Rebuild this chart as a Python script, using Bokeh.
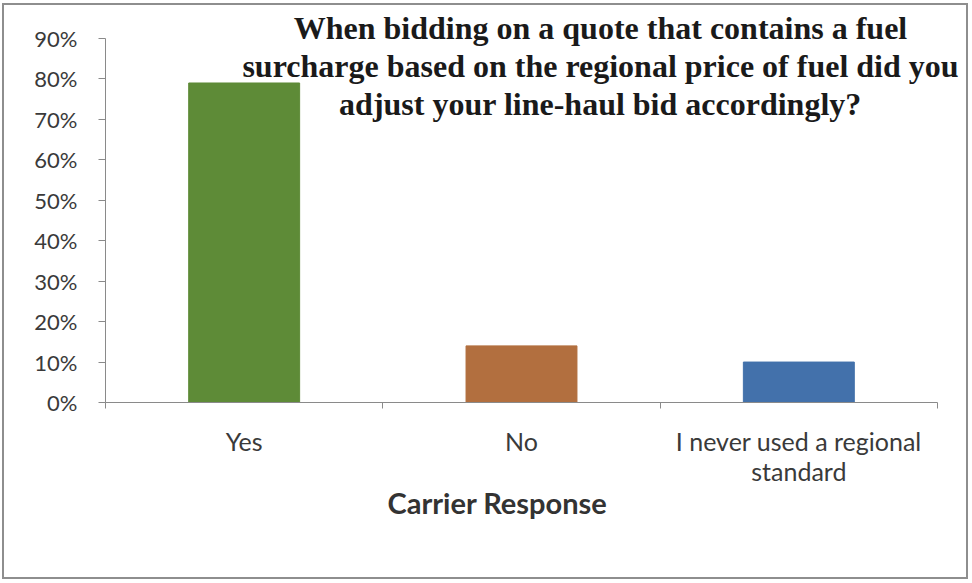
from bokeh.plotting import figure
from bokeh.models import FixedTicker, Range1d, Label, NumeralTickFormatter, ColumnDataSource, Title
from bokeh.embed import file_html
from bokeh.resources import INLINE

categories = ["Yes", "No", "I never used a regional\nstandard"]
values = [0.79, 0.14, 0.10]
colors = ["#5e8b37", "#b26f3f", "#4371ab"]
y_ticks = [0, 0.1, 0.2, 0.3, 0.4, 0.5, 0.6, 0.7, 0.8, 0.9]
x_title = "Carrier Response"
title_text = ("When bidding on a quote that contains a fuel\n"
              "surcharge based on the regional price of fuel did you\n"
              "adjust your line-haul bid accordingly?")

xs = [i + 0.5 for i in range(len(categories))]
src = ColumnDataSource(dict(x=xs, top=values, color=colors))

frame_h = 576 - 179 - 2
y_top = 0.9 * frame_h / 364.0
frame_w = 966 - 101 - 2
x_end = len(categories) * frame_w / 832.0

p = figure(width=966, height=576, output_backend="svg", toolbar_location=None,
           x_range=Range1d(0, x_end), y_range=Range1d(0, y_top),
           min_border_left=101, min_border_right=2, min_border_top=2,
           min_border_bottom=179)
p.styles = {"border": "2px solid #8e8e8e", "margin-left": "2px", "margin-top": "3px"}
p.outline_line_color = None
p.grid.grid_line_color = None

p.vbar(x="x", top="top", width=0.4, bottom=0, color="color", source=src)

p.yaxis.ticker = FixedTicker(ticks=y_ticks)
p.yaxis.bounds = (0, 0.9)
p.yaxis.formatter = NumeralTickFormatter(format="0%")
p.yaxis.axis_line_color = "#8a8a8a"
p.yaxis.major_tick_line_color = "#8a8a8a"
p.yaxis.major_tick_out = 7
p.yaxis.major_tick_in = 0
p.yaxis.minor_tick_line_color = None
p.yaxis.major_label_text_font = "Lato"
p.yaxis.major_label_text_font_size = "22px"
p.yaxis.major_label_text_color = "#3a3a3a"
p.yaxis.major_label_standoff = 21

p.xaxis.ticker = FixedTicker(ticks=xs, minor_ticks=[0, 1, 2, 3])
p.xaxis.bounds = (0, len(categories))
p.xaxis.major_label_overrides = {x: c for x, c in zip(xs, categories)}
p.xaxis.axis_line_color = "#8a8a8a"
p.xaxis.major_tick_line_color = None
p.xaxis.minor_tick_line_color = "#8a8a8a"
p.xaxis.minor_tick_out = 6
p.xaxis.minor_tick_in = 0
p.xaxis.major_label_text_font = "Lato"
p.xaxis.major_label_text_font_size = "25px"
p.xaxis.major_label_text_line_height = 1.0
p.xaxis.major_label_text_color = "#3a3a3a"
p.xaxis.major_label_standoff = 17

xt = Title(text=x_title, align="left", offset=282, standoff=-12,
           text_font="Lato", text_font_style="bold", text_font_size="29px",
           text_color="#333333")
p.add_layout(xt, "below")

title = Label(x=495, y=393, x_units="screen", y_units="screen", text=title_text,
              text_font="Liberation Serif", text_font_style="bold",
              text_font_size="32px", text_align="center", text_baseline="top",
              text_line_height=1.06, text_color="#1a1a1a")
p.add_layout(title)

open("out.html", "w").write(file_html(p, INLINE))
